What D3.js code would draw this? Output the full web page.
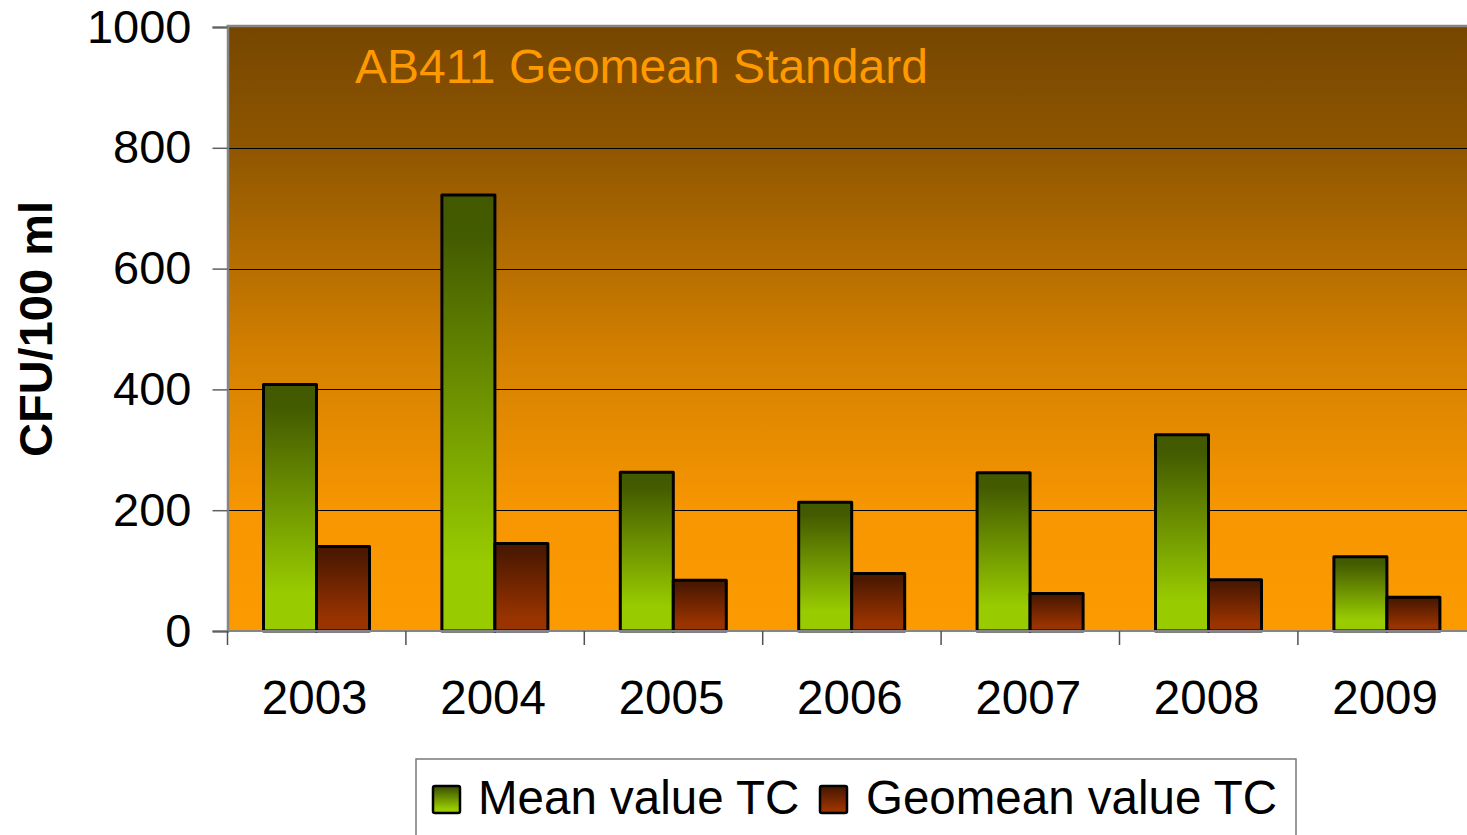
<!DOCTYPE html>
<html>
<head>
<meta charset="utf-8">
<script src="https://cdn.jsdelivr.net/npm/d3@7"></script>
<style>
  html, body { margin: 0; padding: 0; background: #fff; }
  svg { display: block; }
  text { font-family: "Liberation Sans", Arial, sans-serif; }
</style>
</head>
<body>
<svg id="chart" width="1467" height="835"></svg>
<script>
const years = ["2003", "2004", "2005", "2006", "2007", "2008", "2009"];
const meanTC = [408, 722, 263, 213, 262, 325, 123];
const geomeanTC = [140, 145, 84, 95, 62, 85, 56];
const seriesNames = ["Mean value TC", "Geomean value TC"];
const yTicks = [0, 200, 400, 600, 800, 1000];
const titleText = "AB411 Geomean Standard";
const yAxisTitle = "CFU/100 ml";

const svg = d3.select("#chart");
const plot = { left: 227.5, top: 27, bottom: 631, band: 178.4 };
plot.right = plot.left + plot.band * years.length;

const x = d3.scaleBand().domain(years).range([plot.left, plot.right]).paddingInner(0).paddingOuter(0);
const x1 = d3.scaleBand().domain(seriesNames).range([36, 142]).padding(0);
const y = d3.scaleLinear().domain([0, 1000]).range([plot.bottom, plot.top]);

const defs = svg.append("defs");
const bg = defs.append("linearGradient").attr("id", "bgGrad").attr("x1", 0).attr("y1", 0).attr("x2", 0).attr("y2", 1);
[[0, "#764600"], [0.2, "#8f5600"], [0.55, "#d58100"], [0.8, "#f79600"], [1, "#fc9a00"]]
  .forEach(([o, c]) => bg.append("stop").attr("offset", o).attr("stop-color", c));
const gG = defs.append("linearGradient").attr("id", "greenGrad").attr("x1", 0).attr("y1", 0).attr("x2", 0).attr("y2", 1);
[[0, "#425900"], [0.1, "#445c00"], [0.85, "#99cc00"], [1, "#99cc00"]]
  .forEach(([o, c]) => gG.append("stop").attr("offset", o).attr("stop-color", c));
const rG = defs.append("linearGradient").attr("id", "redGrad").attr("x1", 0).attr("y1", 0).attr("x2", 0).attr("y2", 1);
[[0, "#4a1800"], [0.1, "#4d1900"], [0.85, "#993300"], [1, "#993300"]]
  .forEach(([o, c]) => rG.append("stop").attr("offset", o).attr("stop-color", c));

const fills = { "Mean value TC": "url(#greenGrad)", "Geomean value TC": "url(#redGrad)" };

// plot background
svg.append("rect")
  .attr("x", plot.left).attr("y", plot.top)
  .attr("width", plot.right - plot.left).attr("height", plot.bottom - plot.top)
  .attr("fill", "url(#bgGrad)");

// gridlines
svg.append("g").selectAll("line").data(yTicks.filter(d => d > 0 && d < 1000)).join("line")
  .attr("x1", plot.left).attr("x2", plot.right)
  .attr("y1", d => Math.round(y(d)) + 0.5).attr("y2", d => Math.round(y(d)) + 0.5)
  .attr("stroke", "#000").attr("stroke-width", 1.2);

// plot border top (gray)
svg.append("line").attr("x1", plot.left - 1).attr("x2", plot.right).attr("y1", plot.top - 1).attr("y2", plot.top - 1)
  .attr("stroke", "#858585").attr("stroke-width", 2.5);

// y axis
const yAxis = d3.axisLeft(y).tickValues(yTicks).tickSize(15).tickPadding(21).tickFormat(d3.format("d"));
const yg = svg.append("g").attr("transform", `translate(${plot.left},0)`).call(yAxis);
yg.select(".domain").attr("stroke", "#858585").attr("stroke-width", 2.5);
yg.selectAll(".tick line").attr("stroke", "#606060").attr("stroke-width", 1.5);
yg.selectAll(".tick text").attr("font-size", 47).attr("fill", "#000")
  .style("font-family", "'Liberation Sans', Arial, sans-serif");

// bars
const groups = svg.append("g").selectAll("g").data(years).join("g")
  .attr("transform", d => `translate(${x(d)},0)`);
groups.selectAll("rect")
  .data((d, i) => [
    { s: seriesNames[0], v: meanTC[i] },
    { s: seriesNames[1], v: geomeanTC[i] }
  ])
  .join("rect")
  .attr("x", d => x1(d.s))
  .attr("y", d => y(d.v))
  .attr("width", x1.bandwidth())
  .attr("height", d => y(0) - y(d.v))
  .attr("fill", d => fills[d.s])
  .attr("stroke", "#000").attr("stroke-width", 3).attr("stroke-linejoin", "round");

// x axis
const xg = svg.append("g").attr("transform", `translate(0,${plot.bottom})`);
xg.append("line").attr("x1", plot.left).attr("x2", plot.right).attr("y1", 0).attr("y2", 0)
  .attr("stroke", "#858585").attr("stroke-width", 2);
const bounds = years.map(d => x(d));
xg.selectAll("line.tk").data(bounds).join("line").attr("class", "tk")
  .attr("x1", d => d).attr("x2", d => d).attr("y1", 0).attr("y2", 14)
  .attr("stroke", "#505050").attr("stroke-width", 1.5);
xg.selectAll("text").data(years).join("text")
  .attr("x", d => x(d) + x.bandwidth() / 2 - 2)
  .attr("y", 83)
  .attr("text-anchor", "middle")
  .attr("font-size", 47.5)
  .attr("fill", "#000")
  .text(d => d);

// title in plot
svg.append("text").attr("x", 355).attr("y", 83)
  .attr("font-size", 48).attr("fill", "#ff9900").text(titleText);

// y axis title
svg.append("text")
  .attr("transform", "translate(52,329) rotate(-90)")
  .attr("text-anchor", "middle")
  .attr("font-size", 47).attr("font-weight", "bold").attr("fill", "#000")
  .text(yAxisTitle);

// legend
const lg = svg.append("g");
lg.append("rect").attr("x", 416).attr("y", 759).attr("width", 880).attr("height", 100)
  .attr("fill", "#fff").attr("stroke", "#7a7a7a").attr("stroke-width", 1.5);
const legendItems = [
  { s: seriesNames[0], sx: 433, tx: 478 },
  { s: seriesNames[1], sx: 820, tx: 866 }
];
lg.selectAll("rect.sw").data(legendItems).join("rect").attr("class", "sw")
  .attr("x", d => d.sx).attr("y", 786).attr("width", 27).attr("height", 27).attr("rx", 2)
  .attr("fill", d => fills[d.s]).attr("stroke", "#000").attr("stroke-width", 2.5);
lg.selectAll("text").data(legendItems).join("text")
  .attr("x", d => d.tx).attr("y", 814)
  .attr("font-size", 47.5).attr("fill", "#000")
  .text(d => d.s);
</script>
</body>
</html>
